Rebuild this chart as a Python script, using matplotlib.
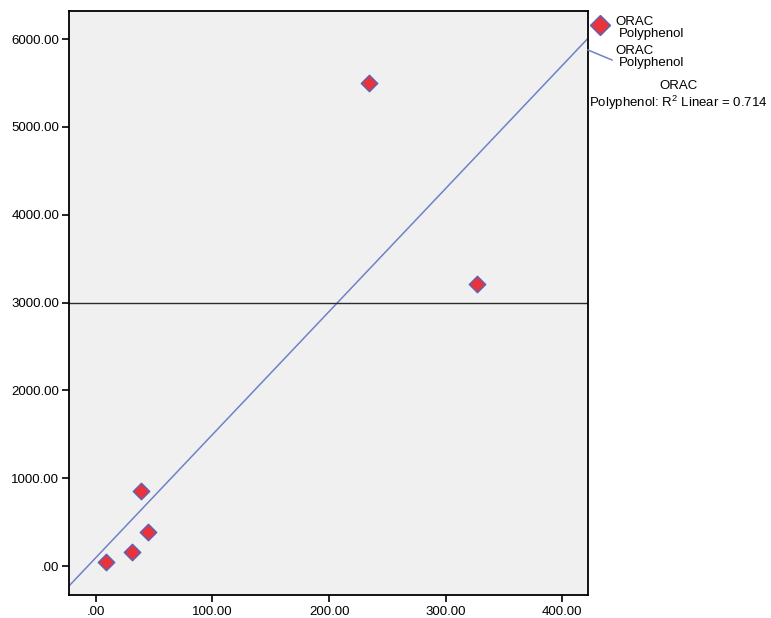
import numpy as np
import matplotlib
matplotlib.use("Agg")
import matplotlib.pyplot as plt
from matplotlib.ticker import FuncFormatter
from matplotlib.lines import Line2D

plt.rcParams['font.family'] = ['Liberation Sans', 'DejaVu Sans']
plt.rcParams['mathtext.fontset'] = 'custom'
plt.rcParams['mathtext.rm'] = 'Liberation Sans'

# Data
polyphenol = [8.6, 30.8, 44.6, 38.6, 234.5, 326.5]
orac = [49, 156, 384, 854, 5496, 3211]
ref_line_y = 3000
x_ticks = [0, 100, 200, 300, 400]
y_ticks = [0, 1000, 2000, 3000, 4000, 5000, 6000]

W, H = 771, 618
fig = plt.figure(figsize=(W / 100, H / 100), dpi=100)
ax = fig.add_axes([69 / W, 1 - 595 / H, (588 - 69) / W, (595 - 10.5) / H])
ax.set_facecolor('#f0f0f0')

x = np.array(polyphenol)
y = np.array(orac)
slope, intercept = np.polyfit(x, y, 1)
r2 = np.corrcoef(x, y)[0, 1] ** 2

xlim = (-23, 422)
ylim = (-330, 6325)
line_color = '#6f82c8'
xs = np.array(xlim)
ax.plot(xs, intercept + slope * xs, color=line_color, lw=1.1, zorder=2)
ax.axhline(ref_line_y, color='#2b2b2b', lw=1.0, zorder=2)
ax.scatter(x, y, marker='D', s=70, facecolor='#e8323c', edgecolor='#5a64b4',
           linewidths=1.0, zorder=3)

ax.set_xlim(*xlim)
ax.set_ylim(*ylim)
ax.set_xticks(x_ticks)
ax.set_yticks(y_ticks)


def fmt(v, pos):
    s = f"{v:.2f}"
    if s.startswith("0."):
        s = s[1:]
    return s


ax.xaxis.set_major_formatter(FuncFormatter(fmt))
ax.yaxis.set_major_formatter(FuncFormatter(fmt))
ax.tick_params(direction='out', length=5, width=1.2, colors='black',
               labelsize=9.5, pad=2)
ax.tick_params(axis='x', pad=3)
for sp in ax.spines.values():
    sp.set_color('black')
    sp.set_linewidth(1.3)


def fx(px):
    return px / W


def fy(py):
    return 1 - py / H


fs = 9.5
# Legend: marker entry
fig.add_artist(Line2D([fx(600)], [fy(25)], marker='D', markersize=10,
                      markerfacecolor='#e8323c', markeredgecolor='#5a64b4',
                      markeredgewidth=1.0, linestyle='none'))
fig.text(fx(615), fy(25), 'ORAC', fontsize=fs, va='baseline', ha='left')
fig.text(fx(619), fy(37), 'Polyphenol', fontsize=fs, va='baseline', ha='left')
# Legend: line entry
fig.add_artist(Line2D([fx(588), fx(612)], [fy(50), fy(60)], color=line_color, lw=1.1))
fig.text(fx(615), fy(54), 'ORAC', fontsize=fs, va='baseline', ha='left')
fig.text(fx(619), fy(66), 'Polyphenol', fontsize=fs, va='baseline', ha='left')
# R^2 annotation
fig.text(fx(679), fy(89), 'ORAC', fontsize=fs, va='baseline', ha='center')
fig.text(fx(589), fy(107), 'Polyphenol: R$^{\\mathrm{2}}$ Linear = ' + f"{r2:.3f}",
         fontsize=fs, va='baseline', ha='left')

fig.savefig('out.png', dpi=100)
